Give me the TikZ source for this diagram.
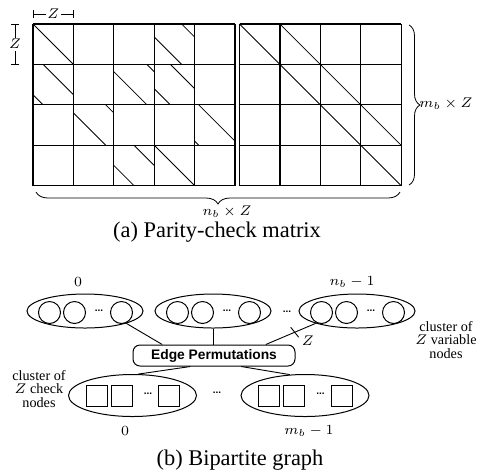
\documentclass[tikz,border=0pt]{standalone}
\usepackage{fontspec}
\setmainfont{Liberation Serif}
\setsansfont{Liberation Sans}
\usetikzlibrary{shapes.geometric,decorations.pathreplacing,arrows.meta,calc}
\tikzset{gridline/.style={line width=0.6pt}}
\tikzset{shiftline/.style={line width=0.4pt}}
\tikzset{dimline/.style={line width=0.4pt,{Bar[width=4pt]}-{Bar[width=4pt]}}}
\tikzset{brace line/.style={decorate,line width=0.4pt,decoration={brace,amplitude=#1}}}
\tikzset{cluster/.style={draw,ellipse,line width=0.5pt,inner sep=0pt}}
\tikzset{var cluster/.style={cluster,minimum width=58pt,minimum height=17pt}}
\tikzset{chk cluster/.style={cluster,minimum width=64pt,minimum height=21pt}}
\tikzset{varnode/.style={draw,circle,line width=0.5pt,minimum size=11pt,inner sep=0pt}}
\tikzset{chknode/.style={draw,rectangle,line width=0.5pt,minimum size=10.5pt,inner sep=0pt}}
\tikzset{dots/.style={font=\sffamily\bfseries\fontsize{5}{5}\selectfont,inner sep=0pt}}
\tikzset{permbox/.style={draw,rounded corners=3.5pt,line width=0.5pt,minimum width=81pt,minimum height=10.5pt,inner sep=0pt,font=\sffamily\bfseries\fontsize{6.9}{8}\selectfont}}
\tikzset{edge/.style={line width=0.45pt}}
\tikzset{small/.style={font=\fontsize{7.1}{6.6}\selectfont}}
\tikzset{caption/.style={font=\fontsize{11.2}{13}\selectfont}}
\newcommand{\cellsize}{40.4}

\begin{document}
\begin{tikzpicture}[x=0.5pt,y=-0.5pt]
\useasboundingbox (0,0) rectangle (480,472);
\foreach \i in {0,...,5} \draw[gridline] ({33+\i*\cellsize},24) -- ({33+\i*\cellsize},{24+4*\cellsize});
\foreach \i in {0,...,4} \draw[gridline] ({239.5+\i*\cellsize},24) -- ({239.5+\i*\cellsize},{24+4*\cellsize});
\foreach \j in {0,...,4} {
  \draw[gridline] (33,{24+\j*\cellsize}) -- ({33+5*\cellsize},{24+\j*\cellsize});
  \draw[gridline] (239.5,{24+\j*\cellsize}) -- ({239.5+4*\cellsize},{24+\j*\cellsize});
}
\foreach \r/\c/\s in {0/0/0,0/3/0.68,1/0/0.25,1/2/0.82,1/3/0.4,2/1/0.8,2/4/0.1,3/2/0.5,3/3/0} {
  \draw[shiftline] ({33+(\c+\s)*\cellsize},{24+\r*\cellsize}) -- ({33+(\c+1)*\cellsize},{24+(\r+1-\s)*\cellsize});
  \draw[shiftline] ({33+\c*\cellsize},{24+(\r+1-\s)*\cellsize}) -- ({33+(\c+\s)*\cellsize},{24+(\r+1)*\cellsize});
}
\draw[shiftline] (239.5,24) -- ({239.5+4*\cellsize},{24+4*\cellsize});
\draw[shiftline] ({239.5+\cellsize},24) -- ({239.5+4*\cellsize},{24+3*\cellsize});
\draw[dimline] (33,14) -- node[small,fill=white,inner sep=0.8pt] (zw) {$Z$} ({33+\cellsize},14);
\draw[dimline] (15,24) -- node[small,fill=white,inner sep=0.8pt] (zh) {$Z$} (15,{24+\cellsize});
\draw[brace line=6pt] (400,192) -- (36,192);
\node[small] (nb-lbl) at (227,212) {$n_b\times Z$};
\draw[brace line=5.5pt] (409,25) -- (409,185);
\node[small] (mb-lbl) at (446,104) {$m_b\times Z$};
\node[caption] (cap-a) at (217,232) {(a) Parity-check matrix};

\foreach \e/\x in {var0/85,var1/213,var2/357} {
  \node[var cluster] (\e) at (\x,311) {};
  \foreach \k/\dx in {a/-35.5,b/-10.5,z/36.5} \node[varnode] (\e\k) at ($(\e)+(\dx,1.5)$) {};
  \node[dots] (\e-dots) at ($(\e)+(14,0)$) {...};
}
\foreach \e/\x in {chk0/132.5,chk1/305} {
  \node[chk cluster] (\e) at (\x,395.5) {};
  \foreach \k/\dx in {a/-36,b/-11,z/36.5} \node[chknode] (\e\k) at ($(\e)+(\dx,0.5)$) {};
  \node[dots] (\e-dots) at ($(\e)+(15.5,-2)$) {...};
}
\node[dots] (var-gap) at (287,312) {...};
\node[dots] (chk-gap) at (217,393) {...};
\node[small] (var0-lbl) at (78,282) {$0$};
\node[small] (var2-lbl) at (352,282) {$n_b-1$};
\node[small] (chk0-lbl) at (125,431) {$0$};
\node[small] (chk1-lbl) at (309,431) {$m_b-1$};
\node[permbox] (perm) at (214,355.5) {Edge Permutations};
\draw[edge] (var0.south east) -- (perm.168);
\draw[edge] (var1.south) -- (var1.south |- perm.north);
\draw[edge] (var2.south west) -- coordinate[pos=0.42] (tick) (perm.12);
\draw[edge] ($(tick)+(-4,-5)$) -- ($(tick)+(4,5)$);
\node[small] (z-lbl) at ($(tick)+(13,8)$) {$Z$};
\draw[edge] (perm.205) -- (chk0.75);
\draw[edge] (perm.-22) -- (chk1.126);
\node[small,align=center] (var-note) at (446,340) {cluster of\\$Z$ variable\\nodes};
\node[small,align=center] (chk-note) at (39,389) {cluster of\\$Z$ check\\nodes};
\node[caption] (cap-b) at (240,460) {(b) Bipartite graph};
\end{tikzpicture}
\end{document}
